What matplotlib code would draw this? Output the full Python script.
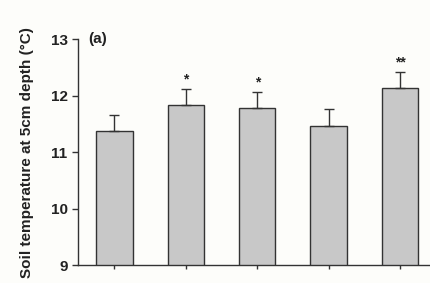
import matplotlib
matplotlib.use("Agg")
import matplotlib.pyplot as plt

categories = ["T1", "T2", "T3", "T4", "T5"]
values = [11.37, 11.83, 11.78, 11.47, 12.14]
errors = [0.28, 0.28, 0.28, 0.29, 0.27]
marks = ["", "*", "*", "", "**"]
yticks = [9, 10, 11, 12, 13]

plt.rcParams['font.family'] = ['Liberation Sans', 'DejaVu Sans']

fig = plt.figure(figsize=(4.31, 2.83), dpi=100)
fig.patch.set_facecolor('#fdfdfa')
ax = fig.add_axes([0.181, 0.0636, 0.83, 0.798])
ax.set_facecolor('#fdfdfa')

x = list(range(len(categories)))
ax.bar(x, values, width=0.51, color='#c8c8c8', edgecolor='#333333', linewidth=1.0, zorder=2)
ax.errorbar(x, values, yerr=[[0]*len(errors), errors], fmt='none', ecolor='#333333',
            elinewidth=1.0, capsize=3.5, capthick=1.0, zorder=3)
for xi, v, e, m in zip(x, values, errors, marks):
    if m:
        ax.text(xi, v + e + 0.05, m, ha='center', va='bottom', fontsize=10, fontweight='bold', color='#222222')

ax.set_ylim(9, 13)
ax.set_xlim(-0.51, 4.5)
ax.set_yticks(yticks)
ax.set_yticklabels([str(t) for t in yticks], fontsize=11, fontweight='bold', color='#222222')
ax.set_xticks(x)
ax.set_xticklabels([])
ax.tick_params(axis='y', direction='out', length=4, width=1, color='#333333')
ax.tick_params(axis='x', direction='out', length=3, width=1, color='#333333')
for s in ['top', 'right']:
    ax.spines[s].set_visible(False)
for s in ['left', 'bottom']:
    ax.spines[s].set_color('#333333')
    ax.spines[s].set_linewidth(1.0)

ax.set_ylabel("Soil temperature at 5cm depth (\u00b0C)", fontsize=11, fontweight='bold', color='#222222', labelpad=12)
ax.text(0.03, 1.0, "(a)", transform=ax.transAxes, fontsize=11, fontweight='bold', color='#222222', va='center', ha='left')

fig.savefig("out.png", dpi=100, facecolor=fig.get_facecolor())
